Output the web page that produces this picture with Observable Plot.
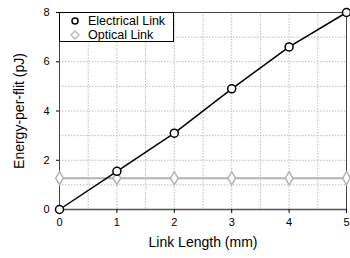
<!DOCTYPE html>
<html><head><meta charset="utf-8">
<script src="https://cdn.jsdelivr.net/npm/d3@7"></script>
<script src="https://cdn.jsdelivr.net/npm/@observablehq/plot@0.6"></script>
<style>
body{margin:0;background:#fff;font-family:"Liberation Sans",Arial,sans-serif;}
#wrap{position:relative;width:350px;height:258px;}
#legend{position:absolute;left:59px;top:12px;width:115px;height:30px;border:1px solid #000;background:#fff;box-sizing:border-box;font-size:12.5px;color:#000;}
.row{position:absolute;left:0;height:15px;display:flex;align-items:center;}
.row svg{margin-left:10px;margin-right:8px;}
</style></head>
<body><div id="wrap"></div>
<script>
const lengths = [0, 1, 2, 3, 4, 5];
const electrical = [0, 1.55, 3.1, 4.9, 6.6, 8.0];
const optical = [1.27, 1.27, 1.27, 1.27, 1.27, 1.27];
const seriesNames = ["Electrical Link", "Optical Link"];
const xGrid = [0.5, 1, 1.5, 2, 2.5, 3, 3.5, 4, 4.5];
const yGrid = [1, 2, 3, 4, 5, 6, 7];

const elec = lengths.map((x, i) => ({x, y: electrical[i]}));
const opt = lengths.map((x, i) => ({x, y: optical[i]}));

const chart = Plot.plot({
  width: 350, height: 258,
  marginLeft: 59, marginRight: 4, marginTop: 12, marginBottom: 49,
  style: {fontFamily: "Liberation Sans, Arial, sans-serif", fontSize: "11px", color: "#000", background: "#fff", overflow: "visible"},
  x: {domain: [0, 5], label: null},
  y: {domain: [0, 8], label: null},
  marks: [
    Plot.ruleX(xGrid, {stroke: "#bbb", strokeDasharray: "1.5,1.5", strokeWidth: 1}),
    Plot.ruleY(yGrid, {stroke: "#bbb", strokeDasharray: "1.5,1.5", strokeWidth: 1}),
    Plot.frame({stroke: "#444", strokeWidth: 1}),
    Plot.ruleY([0], {stroke: "#555", strokeWidth: 1.5}),
    Plot.ruleX([0], {stroke: "#444", strokeWidth: 1}),
    Plot.axisX({ticks: lengths, tickFormat: "d", tickSize: 4, tickPadding: 5, label: null}),
    Plot.axisY({ticks: [0, 2, 4, 6, 8], tickFormat: "d", tickSize: 3, tickPadding: 7, label: null}),
    Plot.line(opt, {x: "x", y: "y", stroke: "#b3b3b3", strokeWidth: 2}),
    Plot.dot(opt, {x: "x", y: "y", symbol: "diamond", r: 4, fill: "#fff", stroke: "#b3b3b3", strokeWidth: 1.5}),
    Plot.line(elec, {x: "x", y: "y", stroke: "#000", strokeWidth: 1.5}),
    Plot.dot(elec, {x: "x", y: "y", symbol: "circle", r: 4, fill: "#fff", stroke: "#000", strokeWidth: 1.5}),
    Plot.text(["Link Length (mm)"], {frameAnchor: "bottom", dy: 37, fontSize: 14, text: d => d}),
    Plot.text(["Energy-per-flit (pJ)"], {frameAnchor: "left", textAnchor: "middle", dx: -40, rotate: -90, fontSize: 14, text: d => d})
  ]
});
const wrap = document.getElementById("wrap");
wrap.appendChild(chart);

const legend = document.createElement("div");
legend.id = "legend";
const symbols = [
  '<svg width="10" height="10"><circle cx="5" cy="5" r="3" fill="#fff" stroke="#000" stroke-width="1.5"/></svg>',
  '<svg width="10" height="10"><path d="M5 1L9 5L5 9L1 5Z" fill="#fff" stroke="#b3b3b3" stroke-width="1.3"/></svg>'
];
seriesNames.forEach((name, i) => {
  const r = document.createElement("div");
  r.className = "row";
  r.style.top = (i * 14) + "px";
  r.innerHTML = symbols[i] + "<span>" + name + "</span>";
  legend.appendChild(r);
});
wrap.appendChild(legend);
</script></body></html>
